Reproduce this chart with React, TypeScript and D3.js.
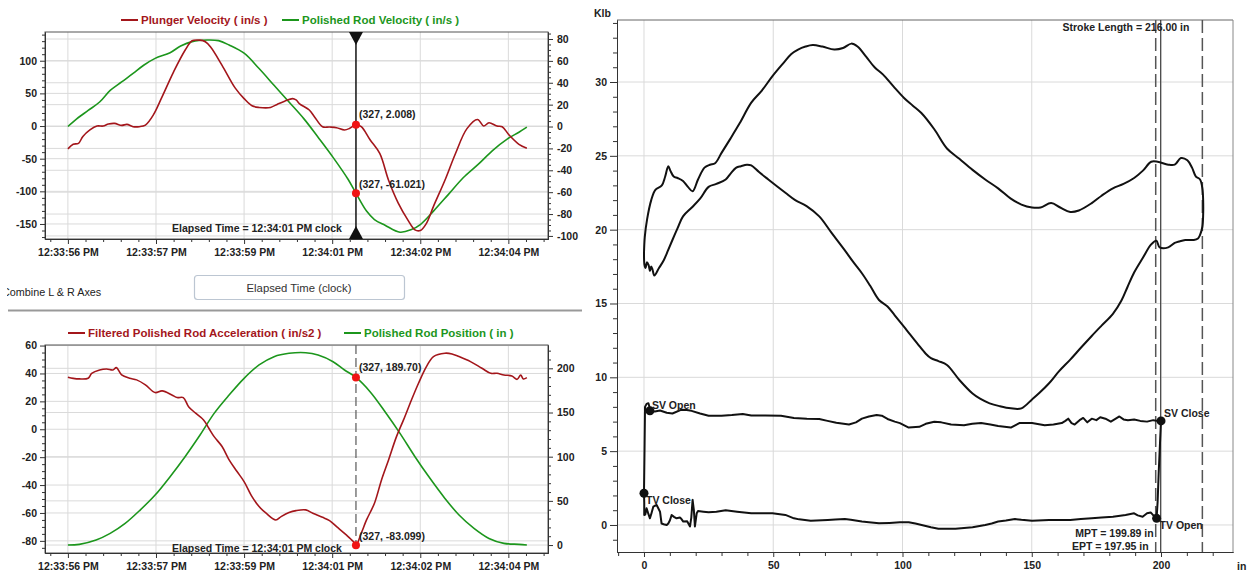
import React, { useEffect, useRef } from 'react';
import * as d3 from 'd3';

type Pt = [number, number];

// x axis of the left charts is the sample index, labelled with clock time
const timeTicks = [0, 100, 200, 300, 400, 500];
const timeTickLabels = ['12:33:56 PM', '12:33:57 PM', '12:33:59 PM', '12:34:01 PM', '12:34:02 PM', '12:34:04 PM'];
const cursorSample = 327;
const cursorClock = '12:34:01 PM';

// [sample, in/s]
const plungerVelocity: Pt[] = [
  [0, -35], [6, -28], [12, -26.5], [17, -16], [25, -6], [33, 0], [40, 0], [46, 3], [53, 4], [61, 1],
  [67, 2.5], [74, -1], [81, -1], [88, 1.5], [97, 17], [107, 45], [120, 83], [133, 116], [141, 130.5],
  [150, 131.5], [156, 129], [162, 121], [175, 93], [190, 58], [200, 42], [209, 31], [217, 28.5],
  [230, 28.5], [238, 33.5], [246, 38], [255, 42], [259, 40], [263, 34], [274, 24.5], [280, 14],
  [289, -1], [297, -1.5], [305, -2.5], [314, -6], [320, -3.5], [327, 2], [333, -1], [343, -21],
  [354, -42], [364, -83], [375, -118], [386, -144], [394, -159], [400, -160], [407, -149], [415, -123],
  [428, -83], [440, -42], [453, -4], [465, 10], [472, 0], [478, 5], [487, 0], [493, -1], [501, -14],
  [512, -28], [521, -34],
];

const polishedRodVelocity: Pt[] = [
  [0, 0], [10, 7], [23, 14.7], [36, 22.4], [48, 33], [61, 40.8], [74, 48.5], [86, 56], [99, 62.3],
  [116, 67.5], [128, 73.6], [141, 77.6], [158, 79.1], [171, 78.5], [183, 74.5], [200, 67], [217, 53],
  [234, 37.7], [251, 22.4], [268, 7], [284, -9.8], [301, -28.2], [318, -48.2], [327, -61], [339, -77.3],
  [348, -85], [360, -90.2], [377, -96.6], [390, -94.2], [400, -89.6], [415, -77.3], [432, -62],
  [449, -46.6], [466, -34.4], [482, -22], [499, -11.3], [512, -5.2], [521, -0.6],
];

// [sample, in/s2]
const rodAcceleration: Pt[] = [
  [0, 37.3], [6, 36.5], [13, 36.1], [23, 36.6], [27, 40], [36, 42.5], [44, 43.2], [51, 42.5], [55, 44.2],
  [61, 39], [70, 36.6], [78, 35.4], [88, 31.8], [99, 26.3], [107, 27.5], [118, 24.6], [124, 22.7],
  [131, 22.7], [137, 16.2], [145, 11.5], [154, 6.7], [160, 0.7], [166, -5.3], [175, -12.4], [183, -22],
  [192, -30.3], [200, -37.5], [209, -48.3], [217, -55.4], [225, -60.2], [236, -65], [242, -62.6],
  [251, -59.7], [259, -58.3], [270, -57.8], [278, -60.2], [289, -63.1], [297, -65.5], [305, -69.8],
  [316, -75.7], [324, -80.5], [327, -83.1], [333, -74.5], [339, -65], [348, -53], [356, -36.3],
  [364, -22], [373, -5.3], [381, 6.7], [390, 21], [398, 33], [407, 44.9], [415, 52.1], [428, 54.5],
  [436, 54], [444, 52.1], [457, 48.5], [470, 43.7], [480, 40.1], [487, 40.1], [495, 38.9], [504, 38.2],
  [510, 35.8], [514, 38.9], [517, 36.1], [521, 37],
];

// [sample, in]
const rodPosition: Pt[] = [
  [0, 0], [13, 0.8], [32, 5.7], [48, 13.2], [65, 24.5], [82, 39.6], [99, 56.6], [116, 77.4], [133, 100],
  [150, 124.5], [166, 149], [183, 169.8], [200, 188.7], [217, 203.8], [234, 213.2], [251, 217],
  [270, 217.7], [284, 215], [301, 207.5], [314, 198.1], [327, 189.7], [343, 173.6], [360, 150.9],
  [377, 126.4], [394, 100], [411, 75.5], [428, 52.8], [444, 34], [461, 18.9], [478, 7.5], [495, 1.9],
  [512, 0.8], [521, 0],
];

const cursorPlungerVelocity = 2.008;
const cursorRodVelocity = -61.021;
const cursorAcceleration = -83.099;
const cursorPosition = 189.7;

// dynamometer cards: [position in, load Klb]
const surfaceCard: Pt[] = [
  [0, 18.4], [0.3, 19.5], [1.2, 20.7], [2.8, 22.0], [4.4, 22.7], [6.9, 23.0], [8.2, 23.6], [9.4, 24.3],
  [10.2, 24.0], [11.5, 23.6], [13, 23.5], [15.1, 23.3], [17, 22.9], [18.8, 22.6], [20.9, 23.4],
  [23.4, 24.2], [25.5, 24.4], [27.5, 24.5], [30, 25.2], [33.2, 26.1], [37, 27.2], [41.5, 28.6],
  [45.5, 29.4], [49.7, 30.4], [54, 31.3], [57, 31.9], [59.6, 32.2], [62.5, 32.4], [65.3, 32.5],
  [69, 32.4], [73.6, 32.2], [77, 32.3], [80.2, 32.6], [82.6, 32.4], [86, 31.7], [89.2, 31.0],
  [92.5, 30.5], [96.5, 29.7], [100.7, 28.9], [104, 28.4], [107.3, 27.9], [112.3, 26.8], [117.2, 25.5],
  [122, 24.8], [127.1, 24.05], [132, 23.4], [137, 22.8], [141.9, 22.1], [146, 21.7], [150.1, 21.5],
  [153.4, 21.5], [157.5, 21.8], [161, 21.5], [164.9, 21.2], [168.2, 21.3], [173.2, 21.8], [177, 22.3],
  [181.4, 22.8], [185.5, 23.1], [189.6, 23.5], [193, 24.0], [196.2, 24.6], [198.7, 24.6], [202.8, 24.4],
  [205.3, 24.4], [207.7, 24.85], [210.2, 24.7], [212, 24.2], [213.5, 23.6], [215.1, 23.4], [216, 22.8],
  [216.3, 22.0], [216.3, 21.0], [216, 20.2], [215, 19.6], [214.3, 19.4], [212.7, 19.3], [209.4, 19.3],
  [207, 19.2], [205.3, 19.1], [202.8, 18.8], [199.5, 18.8], [198.2, 19.25], [196.2, 19.0], [193, 18.1],
  [189.6, 17.1], [187, 16.1], [184.7, 15.2], [181.4, 14.3], [177, 13.5], [173.2, 12.8], [169, 12.0],
  [164.9, 11.2], [160.5, 10.4], [156.7, 9.6], [153, 8.95], [150.1, 8.5], [146, 7.9], [141.9, 7.9],
  [137.5, 8.05], [133.7, 8.24], [130, 8.55], [127.1, 8.9], [122.1, 9.8], [117.2, 10.84], [113.9, 11.1],
  [111, 11.3], [109, 11.6], [105.7, 12.3], [100.7, 13.4], [97, 14.2], [94.2, 14.8], [90.9, 15.24],
  [87.5, 16.2], [84.3, 17.05], [81, 17.8], [77.7, 18.6], [72.5, 19.8], [67.8, 20.9], [62.9, 21.6],
  [58.5, 22.0], [54.7, 22.5], [48.1, 23.4], [44.5, 23.9], [41.5, 24.35], [39.8, 24.4], [37.5, 24.3],
  [35.7, 24.2], [33.5, 23.8], [31.6, 23.4], [28, 23.1], [25, 22.9], [21.7, 22.1], [18.5, 21.5],
  [15.1, 20.9], [13, 20.1], [11, 19.3], [9.3, 18.6], [7.7, 17.95], [5.8, 17.4], [4, 16.9], [3.3, 17.3],
  [2.8, 17.5], [2.3, 17.2], [1.8, 17.6], [1.2, 17.8], [0.6, 17.4], [0.2, 17.6], [0, 18.4],
];

const pumpCard: Pt[] = [
  [0, 2.15], [0.2, 5], [0.4, 8.0], [1.0, 8.2], [1.7, 8.25], [2.3, 7.9], [3.2, 7.7], [4.2, 7.68],
  [6.2, 7.75], [8.8, 7.6], [11, 7.55], [14.3, 7.8], [16.5, 7.78], [18.4, 7.73], [21.7, 7.55], [25, 7.4],
  [30, 7.4], [34, 7.45], [38.2, 7.52], [41.5, 7.42], [47, 7.42], [53, 7.4], [58, 7.25], [63, 7.2],
  [67.8, 7.18], [71, 7.05], [74.4, 6.92], [79.3, 6.8], [82, 6.95], [84.3, 7.2], [87, 7.35], [90, 7.45],
  [92, 7.4], [94.2, 7.18], [97, 7.0], [99, 6.9], [102.4, 6.6], [106.5, 6.65], [109, 6.85], [112.3, 6.99],
  [115, 6.95], [118.8, 6.8], [123.8, 6.75], [127, 6.85], [130.4, 6.9], [134, 6.8], [137, 6.7],
  [141.9, 6.6], [145.2, 6.9], [150.1, 6.9], [155, 6.75], [158.4, 6.8], [161.6, 6.9], [163, 7.05],
  [164.1, 7.2], [165.4, 6.9], [166.6, 6.8], [168.5, 7.1], [169.9, 7.25], [171.5, 6.95], [173.2, 7.2],
  [175, 7.1], [176.5, 7.3], [178.5, 7.2], [180.6, 7.0], [182.5, 7.2], [183.9, 7.35], [185.5, 7.15],
  [187.2, 7.1], [189.6, 7.15], [192, 7.05], [194.6, 7.0], [197, 7.1], [198.5, 7.05], [200, 7.05],
  [199.6, 5.5], [199.1, 3.5], [198.7, 1.6], [198.3, 0.45], [197.3, 0.6], [196, 0.85], [194.6, 0.79],
  [192.9, 0.56], [191, 0.65], [189.6, 0.79], [186.3, 0.68], [181.4, 0.56], [177, 0.5], [173.2, 0.45],
  [169, 0.4], [164.9, 0.34], [160, 0.33], [156.7, 0.34], [150.1, 0.29], [146, 0.35], [143.5, 0.4],
  [140, 0.3], [137, 0.23], [134.5, 0.1], [132, 0.0], [127.1, -0.16], [120.5, -0.25], [113.9, -0.25],
  [111, -0.15], [109, -0.07], [105, 0.1], [102.4, 0.18], [99, 0.18], [95, 0.14], [90.9, 0.11],
  [87, 0.18], [84.3, 0.23], [80, 0.35], [77.7, 0.4], [74, 0.37], [71.1, 0.34], [64.5, 0.29], [60, 0.38],
  [58, 0.45], [54.7, 0.68], [49.7, 0.79], [45, 0.8], [41.5, 0.79], [36, 0.9], [31.6, 1.0], [28, 0.9],
  [25, 0.86], [23, 0.9], [20.9, 0.95], [20.4, 0.8], [19.7, -0.1], [19.3, 1.0], [18.8, 1.7], [18.3, 0.5],
  [17.8, -0.1], [16.7, 0.25], [15.2, 0.23], [14.5, 0.4], [13.9, 0.5], [12.6, 0.45], [11.6, 0.55],
  [10.7, 0.68], [10, 0.3], [9.4, 0.1], [8.8, 0.0], [7.6, 0.05], [6.8, 0.1], [6.2, 0.9], [4.9, 1.35],
  [4.2, 1.3], [3.6, 1.24], [2.9, 0.8], [2.3, 0.45], [1.6, 0.8], [1.0, 1.13], [0.5, 0.7], [0.1, 0.68],
  [0.1, 1.5], [0, 2.15],
];

const valveLabels = ['SV Open', 'SV Close', 'TV Open', 'TV Close'];
const valvePositions = [2.3, 200, 198.3, 0];
const valveLoads = [7.74, 7.05, 0.45, 2.15];

const strokeLength = 216.0;
const mpt = 199.89;
const ept = 197.95;

const cardXTicks = [0, 50, 100, 150, 200];
const cardYTicks = [0, 5, 10, 15, 20, 25, 30];

const FONT = '"Liberation Sans", Arial, Helvetica, sans-serif';
const RED = '#a3161b';
const GREEN = '#1c961c';
const GRID = '#dadada';

type Svg = d3.Selection<SVGSVGElement, unknown, null, undefined>;

// plain hyphen minus, like the original software
const plain = (d: d3.NumberValue) => String(d);

function styleAxis(g: any, withText = true) {
  g.attr('font-family', FONT).attr('font-size', 10.5).attr('font-weight', 'bold');
  g.selectAll('text').attr('fill', '#222');
  g.selectAll('line').attr('stroke', '#333');
  g.select('.domain').attr('stroke', '#333');
  if (!withText) g.selectAll('text').remove();
}

function minorValues(domain: [number, number], step: number, majors: number[]) {
  const lo = Math.min(domain[0], domain[1]);
  const hi = Math.max(domain[0], domain[1]);
  return d3.range(Math.ceil(lo / step) * step, hi, step).filter((v) => !majors.some((m) => Math.abs(m - v) < 1e-6));
}

interface TimeChart {
  top: number;
  bottom: number;
  leftDomain: [number, number];
  rightDomain: [number, number];
  leftTicks: number[];
  leftMinor: number;
  rightTicks: number[];
  rightMinor: number;
  leftSeries: Pt[];
  rightSeries: Pt[];
  leftName: string;
  rightName: string;
  legend: [number, number, number]; // red line x, green line x, y
  leftCursor: string;
  rightCursor: string;
  leftCursorValue: number;
  rightCursorValue: number;
  labelDy: [number, number];
  elapsedY: number;
  solidCursor: boolean;
}

function drawTimeChart(svg: Svg, c: TimeChart) {
  const left = 45;
  const right = 548;
  const x = d3.scaleLinear().domain([-26, 545]).range([left, right]);
  const yL = d3.scaleLinear().domain(c.leftDomain).range([c.bottom, c.top]);
  const yR = d3.scaleLinear().domain(c.rightDomain).range([c.bottom, c.top]);
  const g = svg.append('g');

  // grid
  const grid = g.append('g').attr('stroke', GRID).attr('stroke-width', 1);
  timeTicks.forEach((t) => grid.append('line').attr('x1', x(t)).attr('x2', x(t)).attr('y1', c.top).attr('y2', c.bottom));
  c.leftTicks.forEach((t) => grid.append('line').attr('x1', left).attr('x2', right).attr('y1', yL(t)).attr('y2', yL(t)));
  c.rightTicks.forEach((t) => grid.append('line').attr('x1', left).attr('x2', right).attr('y1', yR(t)).attr('y2', yR(t)));

  g.append('rect').attr('x', left).attr('y', c.top).attr('width', right - left).attr('height', c.bottom - c.top)
    .attr('fill', 'none').attr('stroke', '#555').attr('stroke-width', 1);

  // axes
  const ax = g.append('g').attr('transform', `translate(${left},0)`)
    .call(d3.axisLeft(yL).tickValues(c.leftTicks).tickSize(5).tickSizeOuter(0).tickPadding(3).tickFormat(plain));
  styleAxis(ax);
  const axm = g.append('g').attr('transform', `translate(${left},0)`)
    .call(d3.axisLeft(yL).tickValues(minorValues(c.leftDomain, c.leftMinor, c.leftTicks)).tickSize(3).tickSizeOuter(0));
  styleAxis(axm, false);

  const ar = g.append('g').attr('transform', `translate(${right},0)`)
    .call(d3.axisRight(yR).tickValues(c.rightTicks).tickSize(5).tickSizeOuter(0).tickPadding(4).tickFormat(plain));
  styleAxis(ar);
  const arm = g.append('g').attr('transform', `translate(${right},0)`)
    .call(d3.axisRight(yR).tickValues(minorValues(c.rightDomain, c.rightMinor, c.rightTicks)).tickSize(3).tickSizeOuter(0));
  styleAxis(arm, false);

  const axb = g.append('g').attr('transform', `translate(0,${c.bottom})`)
    .call(d3.axisBottom(x).tickValues(timeTicks).tickSize(5).tickSizeOuter(0).tickPadding(5)
      .tickFormat((_d, i) => timeTickLabels[i]));
  styleAxis(axb);
  const axbm = g.append('g').attr('transform', `translate(0,${c.bottom})`)
    .call(d3.axisBottom(x).tickValues(minorValues([-26, 545], 20, timeTicks)).tickSize(3).tickSizeOuter(0));
  styleAxis(axbm, false);

  // series
  const lineL = d3.line<Pt>().x((d) => x(d[0])).y((d) => yL(d[1])).curve(d3.curveCatmullRom.alpha(0.5));
  const lineR = d3.line<Pt>().x((d) => x(d[0])).y((d) => yR(d[1])).curve(d3.curveCatmullRom.alpha(0.5));
  g.append('path').attr('d', lineR(c.rightSeries)).attr('fill', 'none').attr('stroke', GREEN).attr('stroke-width', 1.6);
  g.append('path').attr('d', lineL(c.leftSeries)).attr('fill', 'none').attr('stroke', RED).attr('stroke-width', 1.6);

  // cursor
  const cx = x(cursorSample);
  const cur = g.append('line').attr('x1', cx).attr('x2', cx).attr('y1', c.top).attr('y2', c.bottom);
  if (c.solidCursor) {
    cur.attr('stroke', '#111').attr('stroke-width', 1.5);
    g.append('path').attr('d', `M${cx - 7},${c.top}L${cx + 7},${c.top}L${cx},${c.top + 13}Z`).attr('fill', '#111');
    g.append('path').attr('d', `M${cx - 7},${c.bottom}L${cx + 7},${c.bottom}L${cx},${c.bottom - 13}Z`).attr('fill', '#111');
  } else {
    cur.attr('stroke', '#666').attr('stroke-width', 1.3).attr('stroke-dasharray', '9,4');
  }

  const ly = yL(c.leftCursorValue);
  const ry = yR(c.rightCursorValue);
  [ly, ry].forEach((yy) => g.append('circle').attr('cx', cx).attr('cy', yy).attr('r', 4).attr('fill', '#f01414'));

  const txt = (s: string, tx: number, ty: number, fill = '#222', anchor = 'start') =>
    g.append('text').attr('x', tx).attr('y', ty).attr('font-family', FONT).attr('font-size', 10.5)
      .attr('font-weight', 'bold').attr('fill', fill).attr('text-anchor', anchor).text(s);

  txt(c.leftCursor, cx + 3, ly + c.labelDy[0]);
  txt(c.rightCursor, cx + 3, ry + c.labelDy[1]);
  txt(`Elapsed Time = ${cursorClock} clock`, cx - 99, c.elapsedY, '#222', 'middle');

  // legend
  const [lx, gx, lgy] = c.legend;
  g.append('line').attr('x1', lx).attr('x2', lx + 17).attr('y1', lgy).attr('y2', lgy).attr('stroke', RED).attr('stroke-width', 2);
  g.append('text').attr('x', lx + 20).attr('y', lgy + 4).attr('font-family', FONT).attr('font-size', 11.5)
    .attr('font-weight', 'bold').attr('fill', RED).text(c.leftName);
  g.append('line').attr('x1', gx).attr('x2', gx + 17).attr('y1', lgy).attr('y2', lgy).attr('stroke', GREEN).attr('stroke-width', 2);
  g.append('text').attr('x', gx + 20).attr('y', lgy + 4).attr('font-family', FONT).attr('font-size', 11.5)
    .attr('font-weight', 'bold').attr('fill', GREEN).text(c.rightName);
}

function drawCard(svg: Svg) {
  const left = 617;
  const right = 1233;
  const top = 20;
  const bottom = 552;
  const x = d3.scaleLinear().domain([-10.44, 227.85]).range([left, right]);
  const y = d3.scaleLinear().domain([-1.83, 34.2]).range([bottom, top]);
  const g = svg.append('g');

  const grid = g.append('g').attr('stroke', GRID).attr('stroke-width', 1);
  cardXTicks.forEach((t) => grid.append('line').attr('x1', x(t)).attr('x2', x(t)).attr('y1', top).attr('y2', bottom));
  cardYTicks.forEach((t) => grid.append('line').attr('x1', left).attr('x2', right).attr('y1', y(t)).attr('y2', y(t)));

  g.append('line').attr('x1', left).attr('x2', right).attr('y1', top).attr('y2', top).attr('stroke', '#666');
  g.append('line').attr('x1', right).attr('x2', right).attr('y1', top).attr('y2', bottom).attr('stroke', '#888');

  const ay = g.append('g').attr('transform', `translate(${left},0)`)
    .call(d3.axisLeft(y).tickValues(cardYTicks).tickSize(7).tickSizeOuter(0).tickPadding(3).tickFormat(plain));
  styleAxis(ay);
  const aym = g.append('g').attr('transform', `translate(${left},0)`)
    .call(d3.axisLeft(y).tickValues(minorValues([-1.83, 34.2], 1, cardYTicks)).tickSize(4).tickSizeOuter(0));
  styleAxis(aym, false);
  const axx = g.append('g').attr('transform', `translate(0,${bottom})`)
    .call(d3.axisBottom(x).tickValues(cardXTicks).tickSize(5).tickSizeOuter(0).tickPadding(5).tickFormat(plain));
  styleAxis(axx);
  const axm = g.append('g').attr('transform', `translate(0,${bottom})`)
    .call(d3.axisBottom(x).tickValues(minorValues([-10.44, 227.85], 10, cardXTicks)).tickSize(4).tickSizeOuter(0));
  styleAxis(axm, false);

  const txt = (s: string, tx: number, ty: number, anchor = 'start') =>
    g.append('text').attr('x', tx).attr('y', ty).attr('font-family', FONT).attr('font-size', 10.5)
      .attr('font-weight', 'bold').attr('fill', '#222').attr('text-anchor', anchor).text(s);

  txt('Klb', 594, 17);
  txt('in', 1237, 570);

  // position markers
  const vline = (v: number, dashed: boolean) => {
    const l = g.append('line').attr('x1', x(v)).attr('x2', x(v)).attr('y1', top).attr('y2', bottom)
      .attr('stroke', dashed ? '#555' : '#222').attr('stroke-width', dashed ? 1.5 : 1);
    if (dashed) l.attr('stroke-dasharray', '13,5');
  };
  vline(ept, true);
  vline(mpt, false);
  vline(strokeLength, true);

  const smooth = d3.line<Pt>().x((d) => x(d[0])).y((d) => y(d[1])).curve(d3.curveCatmullRom.alpha(0.5));
  const line = d3.line<Pt>().x((d) => x(d[0])).y((d) => y(d[1]));
  g.append('path').attr('d', smooth(surfaceCard)).attr('fill', 'none').attr('stroke', '#111').attr('stroke-width', 2)
    .attr('stroke-linejoin', 'round');
  g.append('path').attr('d', line(pumpCard)).attr('fill', 'none').attr('stroke', '#111').attr('stroke-width', 2)
    .attr('stroke-linejoin', 'round');

  const offsets: Record<string, [number, number]> = {
    'SV Open': [2, -2],
    'SV Close': [3, -4],
    'TV Open': [3, 11],
    'TV Close': [2, 11],
  };
  valveLabels.forEach((lab, i) => {
    const px = x(valvePositions[i]);
    const py = y(valveLoads[i]);
    g.append('circle').attr('cx', px).attr('cy', py).attr('r', 4.5).attr('fill', '#111');
    txt(lab, px + offsets[lab][0], py + offsets[lab][1]);
  });

  txt(`Stroke Length = ${strokeLength.toFixed(2)} in`, x(strokeLength) - 13, 31, 'end');
  txt(`MPT = ${mpt.toFixed(2)} in`, x(ept) - 2, 537, 'end');
  txt(`EPT = ${ept.toFixed(2)} in`, x(ept) - 7, 550, 'end');
}

export default function App() {
  const ref = useRef<SVGSVGElement | null>(null);

  useEffect(() => {
    if (!ref.current) return;
    const svg = d3.select(ref.current);
    svg.selectAll('*').remove();

    drawTimeChart(svg, {
      top: 32,
      bottom: 239,
      leftDomain: [-173, 144],
      rightDomain: [-102.8, 86.4],
      leftTicks: [-150, -100, -50, 0, 50, 100],
      leftMinor: 10,
      rightTicks: [-100, -80, -60, -40, -20, 0, 20, 40, 60, 80],
      rightMinor: 5,
      leftSeries: plungerVelocity,
      rightSeries: polishedRodVelocity,
      leftName: 'Plunger Velocity ( in/s )',
      rightName: 'Polished Rod Velocity ( in/s )',
      legend: [121, 282, 20],
      leftCursor: `(${cursorSample}, ${cursorPlungerVelocity.toFixed(3)})`,
      rightCursor: `(${cursorSample}, ${cursorRodVelocity.toFixed(3)})`,
      leftCursorValue: cursorPlungerVelocity,
      rightCursorValue: cursorRodVelocity,
      labelDy: [-7, -5],
      elapsedY: 232,
      solidCursor: true,
    });

    drawTimeChart(svg, {
      top: 345,
      bottom: 553,
      leftDomain: [-88.7, 60.4],
      rightDomain: [-9, 226.4],
      leftTicks: [-80, -60, -40, -20, 0, 20, 40, 60],
      leftMinor: 5,
      rightTicks: [0, 50, 100, 150, 200],
      rightMinor: 10,
      leftSeries: rodAcceleration,
      rightSeries: rodPosition,
      leftName: 'Filtered Polished Rod Acceleration ( in/s2 )',
      rightName: 'Polished Rod Position ( in )',
      legend: [68, 344, 333],
      leftCursor: `(${cursorSample}, ${cursorAcceleration.toFixed(3)})`,
      rightCursor: `(${cursorSample}, ${cursorPosition.toFixed(2)})`,
      leftCursorValue: cursorAcceleration,
      rightCursorValue: cursorPosition,
      labelDy: [-5, -6],
      elapsedY: 552,
      solidCursor: false,
    });

    drawCard(svg);

    // controls between the two left charts
    svg.append('text').attr('x', 2).attr('y', 296).attr('font-family', FONT).attr('font-size', 10.8)
      .attr('fill', '#222').text('Combine L & R Axes');
    svg.append('rect').attr('x', 0).attr('y', 282).attr('width', 7).attr('height', 18).attr('fill', '#fff');
    svg.append('rect').attr('x', 194.5).attr('y', 275.5).attr('width', 210).attr('height', 24).attr('rx', 3)
      .attr('fill', '#fff').attr('stroke', '#bcc6d2').attr('stroke-width', 1.2);
    svg.append('text').attr('x', 299).attr('y', 292).attr('text-anchor', 'middle').attr('font-family', FONT)
      .attr('font-size', 11.3).attr('fill', '#333').text('Elapsed Time (clock)');
    svg.append('line').attr('x1', 8).attr('x2', 582).attr('y1', 310.5).attr('y2', 310.5)
      .attr('stroke', '#999').attr('stroke-width', 2);
  }, []);

  return (
    <svg
      ref={ref}
      width={1249}
      height={577}
      style={{ position: 'absolute', left: 0, top: 0, background: '#fff' }}
    />
  );
}
